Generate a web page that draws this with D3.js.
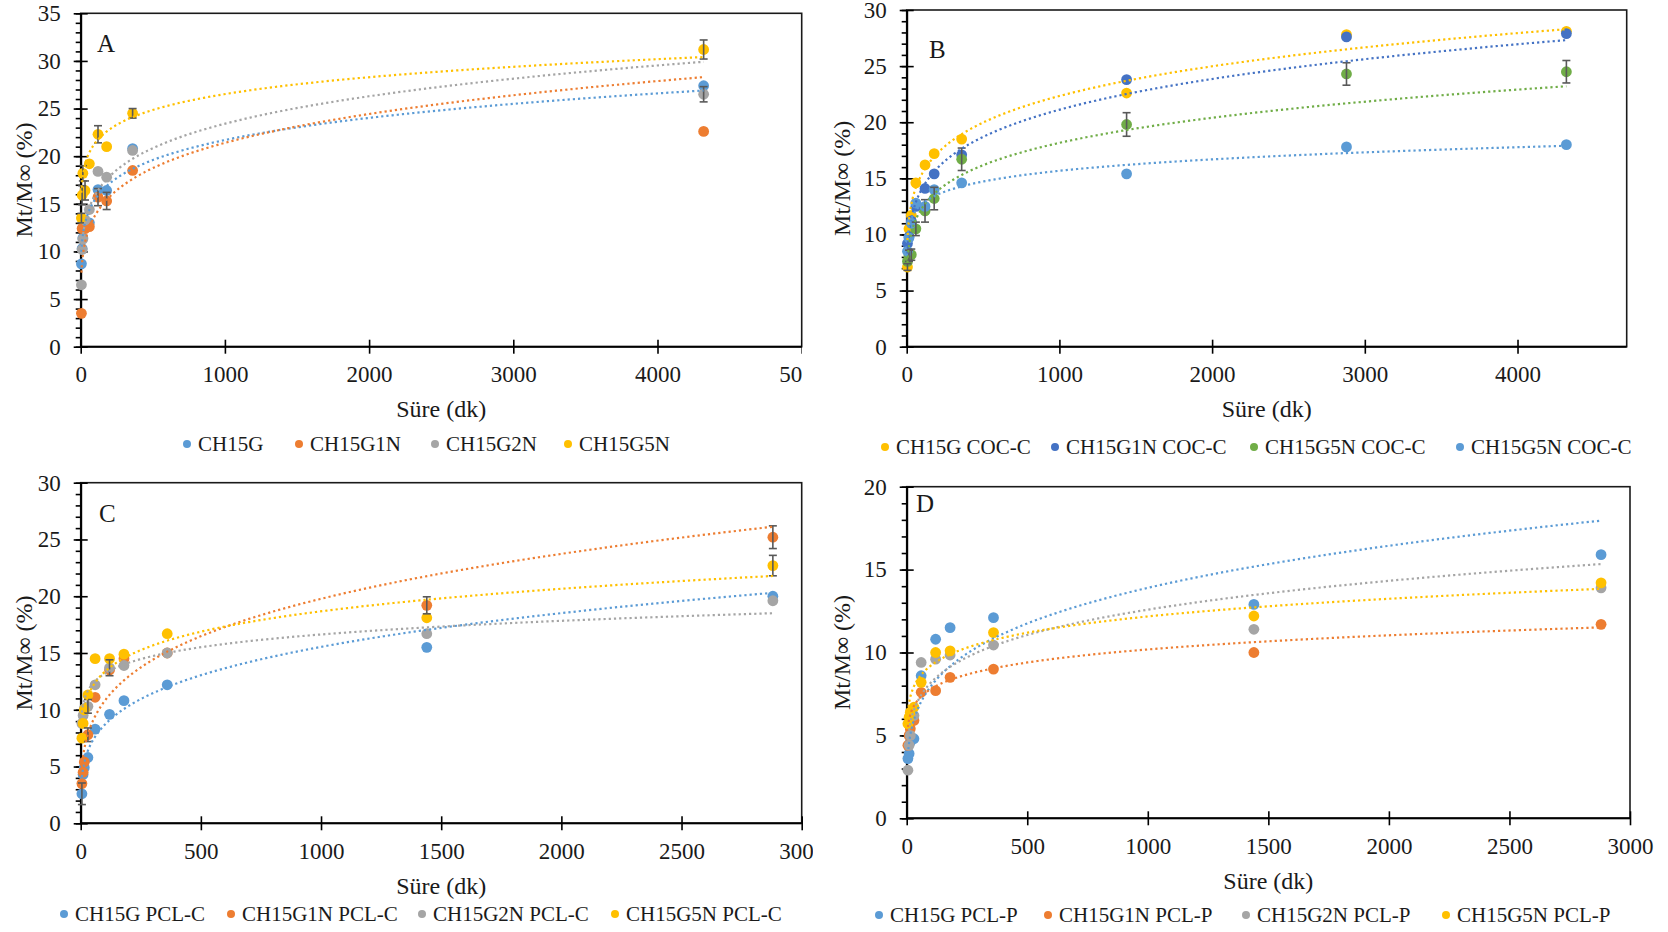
<!DOCTYPE html>
<html lang="tr">
<head>
<meta charset="utf-8">
<title>Mt/M∞ salım eğrileri</title>
<script src="https://cdn.jsdelivr.net/npm/d3@7/dist/d3.min.js"></script>
<style>
  body { margin: 0; background: #fff; }
  svg text { font-family: "Liberation Serif", "DejaVu Serif", serif; fill: #1a1a1a; }
  .tick text { font-size: 23px; }
  .axis-title { font-size: 24px; }
  .legend-label { font-size: 21px; }
  .panel-letter { font-size: 25px; }
  .domain { stroke: #000; stroke-width: 2; }
  .tick line { stroke: #000; stroke-width: 1.6; }
</style>
</head>
<body>
<script>

// sampling times (dk)
var timesA = [5, 10, 15, 30, 60, 120, 180, 360, 4320];
var timesB = [5, 15, 30, 60, 120, 180, 360, 1440, 2880, 4320];
var timesC = [5, 10, 15, 30, 60, 120, 180, 360, 1440, 2880];
var timesD = [5, 10, 15, 30, 60, 120, 180, 360, 1440, 2880];

// panel A
var namesA = ["CH15G", "CH15G1N", "CH15G2N", "CH15G5N"];
var colorsA = ["#5B9BD5", "#ED7D31", "#A5A5A5", "#FFC000"];
var valuesA = [
	[8.7, 10.3, 11.4, 12.5, 13.0, 16.5, 16.4, 20.8, 27.4],
	[3.5, 12.4, 12.5, 12.4, 12.6, 15.7, 15.3, 18.5, 22.6],
	[6.5, 10.2, 11.3, 13.3, 14.4, 18.4, 17.8, 20.6, 26.5],
	[13.5, 15.9, 18.2, 16.4, 19.2, 22.3, 21.0, 24.5, 31.2]
];
var errorsA = [
	[0, 0, 0, 0, 0, 0, 0, 0, 0],
	[0, 0, 0, 0, 0, 0.9, 0.9, 0, 0],
	[0, 0, 0, 0, 0, 0, 0, 0, 0.8],
	[0.5, 1.0, 0.8, 1.0, 0, 0.9, 0, 0.5, 1.0]
];
// power trendlines y = k * t^n  [k, n]
var trendA = [[7.87, 0.1468], [5.72, 0.191], [7.36, 0.1675], [13.9, 0.0935]];
var xTicksA = [0, 1000, 2000, 3000, 4000, 5000];
var yTicksA = [0, 5, 10, 15, 20, 25, 30, 35];

// panel B
var namesB = ["CH15G COC-C", "CH15G1N COC-C", "CH15G5N COC-C", "CH15G5N COC-C"];
var colorsB = ["#FFC000", "#4472C4", "#70AD47", "#5B9BD5"];
var valuesB = [
	[7.1, 10.5, 11.7, 14.6, 16.2, 17.2, 18.5, 22.6, 27.8, 28.1],
	[9.2, 9.8, 11.2, 12.5, 14.1, 15.4, 17.1, 23.8, 27.6, 27.9],
	[7.6, 8.1, 8.2, 10.5, 12.1, 13.2, 16.7, 19.8, 24.3, 24.5],
	[8.5, 9.7, 11.0, 12.8, 12.5, 14.0, 14.6, 15.4, 17.8, 18.0]
];
var errorsB = [
	[0.3, 0, 0, 0, 0, 0, 0, 0, 0, 0],
	[0, 0, 0, 0, 0, 0, 0, 0, 0, 0],
	[0, 0.5, 0.5, 0.6, 1.0, 1.0, 1.0, 1.05, 1.0, 1.0],
	[0, 0, 0, 0, 0, 0, 0, 0, 0, 0]
];
var trendB = [[7.32, 0.1615], [6.26, 0.176], [5.71, 0.1675], [8.37, 0.0908]];
var xTicksB = [0, 1000, 2000, 3000, 4000];
var yTicksB = [0, 5, 10, 15, 20, 25, 30];

// panel C
var namesC = ["CH15G PCL-C", "CH15G1N PCL-C", "CH15G2N PCL-C", "CH15G5N PCL-C"];
var colorsC = ["#5B9BD5", "#ED7D31", "#A5A5A5", "#FFC000"];
var valuesC = [
	[2.6, 4.3, 4.9, 5.8, 8.3, 9.6, 10.8, 12.2, 15.5, 20.0],
	[3.5, 4.5, 5.4, 7.8, 11.1, 13.5, 14.5, 15.0, 19.2, 25.2],
	[8.8, 9.5, 10.1, 10.3, 12.2, 13.7, 13.9, 15.0, 16.7, 19.6],
	[7.5, 8.8, 10.0, 11.3, 14.5, 14.5, 14.9, 16.7, 18.1, 22.7]
];
var errorsC = [
	[0.95, 0, 0, 0, 0, 0, 0, 0, 0, 0],
	[0, 0, 0, 0.6, 0, 0, 0, 0, 0.75, 1.0],
	[0, 0, 0, 0.6, 0, 0.7, 0, 0, 0, 0],
	[0, 0, 0, 0, 0, 0, 0, 0, 0, 0.9]
];
var trendC = [[2.71, 0.2528], [3.21, 0.2632], [8.29, 0.1008], [6.82, 0.1458]];
var xTicksC = [0, 500, 1000, 1500, 2000, 2500, 3000];
var yTicksC = [0, 5, 10, 15, 20, 25, 30];

// panel D
var namesD = ["CH15G PCL-P", "CH15G1N PCL-P", "CH15G2N PCL-P", "CH15G5N PCL-P"];
var colorsD = ["#5B9BD5", "#ED7D31", "#A5A5A5", "#FFC000"];
var valuesD = [
	[3.6, 3.9, 4.6, 4.8, 8.6, 10.8, 11.5, 12.1, 12.9, 15.9],
	[4.4, 5.0, 5.4, 5.9, 7.6, 7.7, 8.5, 9.0, 10.0, 11.7],
	[2.9, 4.4, 5.0, 6.2, 9.4, 9.6, 9.85, 10.45, 11.4, 13.9],
	[5.7, 6.1, 6.4, 6.7, 8.2, 10.0, 10.1, 11.2, 12.2, 14.2]
];
var errorsD = [
	[0, 0, 0, 0, 0, 0, 0, 0, 0, 0],
	[0, 0, 0, 0, 0, 0, 0, 0, 0, 0],
	[0, 0, 0, 0, 0, 0, 0, 0, 0, 0],
	[0, 0, 0, 0, 0, 0, 0, 0, 0, 0]
];
var trendD = [[2.61, 0.2421], [4.57, 0.116], [3.46, 0.1869], [5.27, 0.1212]];
var xTicksD = [0, 500, 1000, 1500, 2000, 2500, 3000];
var yTicksD = [0, 5, 10, 15, 20];


var W = 1668, H = 932;

var svg = d3.select("body").append("svg")
	.attr("width", W)
	.attr("height", H);

svg.append("rect").attr("width", W).attr("height", H).attr("fill", "#fff");

var defs = svg.append("defs");

function drawPanel(p) {
	var g = svg.append("g");

	var x = d3.scaleLinear().domain([0, p.xMax]).range([p.left, p.right]);
	var y = d3.scaleLinear().domain([0, p.yMax]).range([p.bottom, p.top]);

	// plot area frame
	g.append("rect")
		.attr("x", p.left).attr("y", p.top)
		.attr("width", p.right - p.left).attr("height", p.bottom - p.top)
		.attr("fill", "none").attr("stroke", "#1a1a1a").attr("stroke-width", 1.6);

	// minor y ticks
	g.append("g")
		.attr("transform", "translate(" + p.left + ",0)")
		.call(d3.axisLeft(y).tickValues(d3.range(0, p.yMax + 1, 1)).tickSize(5).tickFormat(""))
		.call(function(s) { s.select(".domain").remove(); })
		.selectAll(".tick line").attr("stroke-width", 1.3);

	// major y ticks + labels
	var ya = g.append("g")
		.attr("transform", "translate(" + p.left + ",0)")
		.call(d3.axisLeft(y).tickValues(p.yTicks).tickSizeInner(7).tickSizeOuter(0)
			.tickPadding(13).tickFormat(d3.format("d")));
	ya.selectAll(".tick line").attr("x2", -7).attr("x1", 7);

	// x axis, labels clipped by the chart area like in the original
	var clipId = "clip" + p.letter;
	defs.append("clipPath").attr("id", clipId)
		.append("rect").attr("x", p.clipLeft).attr("y", 0)
		.attr("width", p.clipRight - p.clipLeft).attr("height", H);

	var xa = g.append("g")
		.attr("clip-path", "url(#" + clipId + ")")
		.append("g")
		.attr("transform", "translate(0," + p.bottom + ")")
		.call(d3.axisBottom(x).tickValues(p.xTicks).tickSizeInner(7).tickSizeOuter(0)
			.tickPadding(12).tickFormat(d3.format("d")));
	xa.selectAll(".tick line").attr("y1", -7).attr("y2", 7);
	xa.select(".domain").attr("d", "M" + p.left + ",0H" + p.right);

	// titles
	g.append("text").attr("class", "axis-title")
		.attr("x", (p.left + p.right) / 2).attr("y", p.bottom + 62)
		.attr("dy", "0.35em").attr("text-anchor", "middle")
		.text("Süre (dk)");

	g.append("text").attr("class", "axis-title")
		.attr("transform", "translate(" + p.yTitleX + "," + ((p.top + p.bottom) / 2) + ") rotate(-90)")
		.attr("dy", "0.35em").attr("text-anchor", "middle")
		.text("Mt/M∞ (%)");

	g.append("text").attr("class", "panel-letter")
		.attr("x", p.letterX).attr("y", p.letterY)
		.text(p.letter);

	// markers
	p.values.forEach(function(vals, si) {
		g.append("g").selectAll("circle")
			.data(vals)
			.enter()
			.append("circle")
			.attr("cx", function(d, i) { return x(p.times[i]); })
			.attr("cy", function(d) { return y(d); })
			.attr("r", 5.4)
			.attr("fill", p.colors[si]);
	});

	// error bars
	p.values.forEach(function(vals, si) {
		var eg = g.append("g").attr("stroke", "#595959").attr("stroke-width", 1.6);
		vals.forEach(function(v, i) {
			var e = p.errors[si][i];
			if (!e) return;
			var cx = x(p.times[i]);
			eg.append("line").attr("x1", cx).attr("x2", cx).attr("y1", y(v - e)).attr("y2", y(v + e));
			eg.append("line").attr("x1", cx - 4).attr("x2", cx + 4).attr("y1", y(v - e)).attr("y2", y(v - e));
			eg.append("line").attr("x1", cx - 4).attr("x2", cx + 4).attr("y1", y(v + e)).attr("y2", y(v + e));
		});
	});

	// dotted power trendlines, from first to last sampling time
	var line = d3.line()
		.x(function(d) { return x(d[0]); })
		.y(function(d) { return y(d[1]); });

	p.trends.forEach(function(tr, si) {
		var t0 = d3.min(p.times), t1 = d3.max(p.times);
		var pts = d3.range(0, 401).map(function(i) {
			var t = t0 * Math.pow(t1 / t0, i / 400);
			return [t, tr[0] * Math.pow(t, tr[1])];
		});
		g.append("path")
			.attr("d", line(pts))
			.attr("fill", "none")
			.attr("stroke", p.colors[si])
			.attr("stroke-width", 2.2)
			.attr("stroke-dasharray", "2.2 3");
	});

	// legend
	var lg = g.append("g");
	p.names.forEach(function(name, i) {
		lg.append("circle")
			.attr("cx", p.legendX[i]).attr("cy", p.legendY)
			.attr("r", 4).attr("fill", p.colors[i]);
		lg.append("text").attr("class", "legend-label")
			.attr("x", p.legendX[i] + 11).attr("y", p.legendY)
			.attr("dy", "0.35em")
			.text(name);
	});
}

drawPanel({
	letter: "A", letterX: 97, letterY: 52,
	left: 80.7, right: 801.7, top: 13.3, bottom: 346.7,
	xMax: 5000, yMax: 35, xTicks: xTicksA, yTicks: yTicksA,
	clipLeft: 0, clipRight: 802,
	yTitleX: 24, legendY: 444, legendX: [187, 299, 435, 568],
	times: timesA, names: namesA, colors: colorsA, values: valuesA, errors: errorsA, trends: trendA
});

drawPanel({
	letter: "B", letterX: 929, letterY: 58,
	left: 906.7, right: 1626.7, top: 10, bottom: 346.7,
	xMax: 4715, yMax: 30, xTicks: xTicksB, yTicks: yTicksB,
	clipLeft: 834, clipRight: 1668,
	yTitleX: 842, legendY: 447, legendX: [885, 1055, 1254, 1460],
	times: timesB, names: namesB, colors: colorsB, values: valuesB, errors: errorsB, trends: trendB
});

drawPanel({
	letter: "C", letterX: 99, letterY: 522,
	left: 80.7, right: 801.7, top: 482.7, bottom: 823.3,
	xMax: 3000, yMax: 30, xTicks: xTicksC, yTicks: yTicksC,
	clipLeft: 0, clipRight: 813,
	yTitleX: 24, legendY: 914, legendX: [64, 231, 422, 615],
	times: timesC, names: namesC, colors: colorsC, values: valuesC, errors: errorsC, trends: trendC
});

drawPanel({
	letter: "D", letterX: 916, letterY: 512,
	left: 906.7, right: 1630, top: 486.7, bottom: 818.3,
	xMax: 3000, yMax: 20, xTicks: xTicksD, yTicks: yTicksD,
	clipLeft: 834, clipRight: 1668,
	yTitleX: 842, legendY: 915, legendX: [879, 1048, 1246, 1446],
	times: timesD, names: namesD, colors: colorsD, values: valuesD, errors: errorsD, trends: trendD
});

</script>
</body>
</html>
